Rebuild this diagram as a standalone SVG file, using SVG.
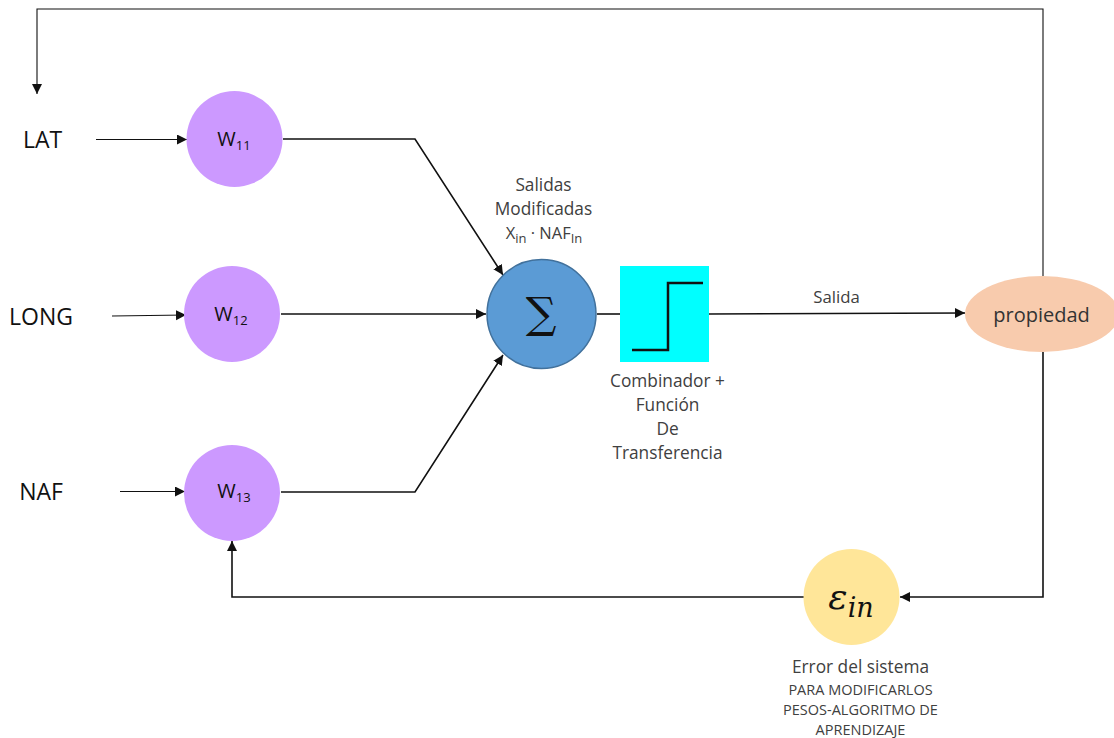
<svg xmlns="http://www.w3.org/2000/svg" width="1114" height="738" viewBox="0 0 1114 738">
<style>
text{font-family:"Open Sans","Noto Sans","Liberation Sans",sans-serif;text-anchor:middle;fill:#404040}
.in{font-size:23px;fill:#111}
.w{font-size:20px;fill:#111}
.sub{font-size:13px}
.l{font-size:17.300px}
.s{font-size:14.500px}
.c line,.c polyline,.c path{fill:none;stroke:#111;stroke-width:1.6}
.t{stroke-width:1.1!important}
.pu{fill:#cc99ff}
</style>
<defs>
<marker id="a" markerUnits="userSpaceOnUse" markerWidth="12" markerHeight="12" refX="10" refY="5" orient="auto"><path d="M0 0L10 5L0 10Z" fill="#111"/></marker>
</defs>
<rect width="1114" height="738" fill="#fff"/>
<g id="connectors" class="c">
<path class="t" d="M1043 276V9H37V94" marker-end="url(#a)"/>
<path class="t" d="M96 139.500H187" marker-end="url(#a)"/>
<path class="t" d="M112 316L186 315" marker-end="url(#a)"/>
<path class="t" d="M120 491.500H185" marker-end="url(#a)"/>
<path d="M283 139H415L503 275" marker-end="url(#a)"/>
<path d="M281 314H486" marker-end="url(#a)"/>
<path d="M281 492H415L503 355" marker-end="url(#a)"/>
<path d="M597 314H620"/>
<path d="M709 314L965 313" marker-end="url(#a)"/>
<path d="M1043 352V597H900" marker-end="url(#a)"/>
<path d="M804 597H232V541" marker-end="url(#a)"/>
</g>
<g id="lat"><text class="in" x="42.500" y="147.500">LAT</text></g>
<g id="long"><text class="in" x="41" y="324.500">LONG</text></g>
<g id="naf"><text class="in" x="41" y="499.500">NAF</text></g>
<g id="w11"><circle class="pu" cx="234.500" cy="139" r="48"/><text class="w" x="234" y="146">W<tspan class="sub" dy="4">11</tspan></text></g>
<g id="w12"><circle class="pu" cx="232" cy="314" r="48"/><text class="w" x="231" y="321">W<tspan class="sub" dy="4">12</tspan></text></g>
<g id="w13"><circle class="pu" cx="232" cy="493" r="48"/><text class="w" x="234" y="498">W<tspan class="sub" dy="4">13</tspan></text></g>
<g id="sumador">
<circle cx="541.500" cy="314" r="54.500" fill="#5b9bd5" stroke="#41719c" stroke-width="1.500"/>
<text x="541" y="328" style="font-family:'DejaVu Serif','Liberation Serif',serif;font-size:43px;fill:#111">∑</text>
</g>
<g id="salidas-label">
<text class="l" x="543.500" y="191">Salidas</text>
<text class="l" x="543.500" y="215">Modificadas</text>
<text x="544" y="238.500" style="font-size:16.500px">X<tspan style="font-size:13px" dy="4">in</tspan><tspan dy="-4"> · NAF</tspan><tspan style="font-size:13px" dy="4">In</tspan></text>
</g>
<g id="transferencia">
<rect x="620" y="266" width="89" height="96" fill="#00ffff"/>
<path d="M632 350H668V283H703" fill="none" stroke="#111" stroke-width="2.500"/>
<text class="l" x="667.500" y="387">Combinador +</text>
<text class="l" x="667.500" y="411">Función</text>
<text class="l" x="667.500" y="435">De</text>
<text class="l" x="667.500" y="459">Transferencia</text>
</g>
<g id="salida"><text style="font-size:16.800px" x="836.500" y="302.500">Salida</text></g>
<g id="propiedad">
<ellipse cx="1042" cy="314" rx="77" ry="38" fill="#f8cbad"/>
<text style="font-size:20px;fill:#333" x="1041.500" y="321.500">propiedad</text>
</g>
<g id="error">
<circle cx="851.500" cy="597" r="48" fill="#ffe699"/>
<text x="851" y="609" style="font-family:'DejaVu Serif','Liberation Serif',serif;font-style:italic;font-size:36px;fill:#111">ε<tspan font-size="27" dy="8">in</tspan></text>
<text class="l" x="860.500" y="673">Error del sistema</text>
<text class="s" x="860.500" y="695">PARA MODIFICARLOS</text>
<text class="s" x="860.500" y="715">PESOS-ALGORITMO DE</text>
<text class="s" x="860.500" y="735">APRENDIZAJE</text>
</g>
</svg>
